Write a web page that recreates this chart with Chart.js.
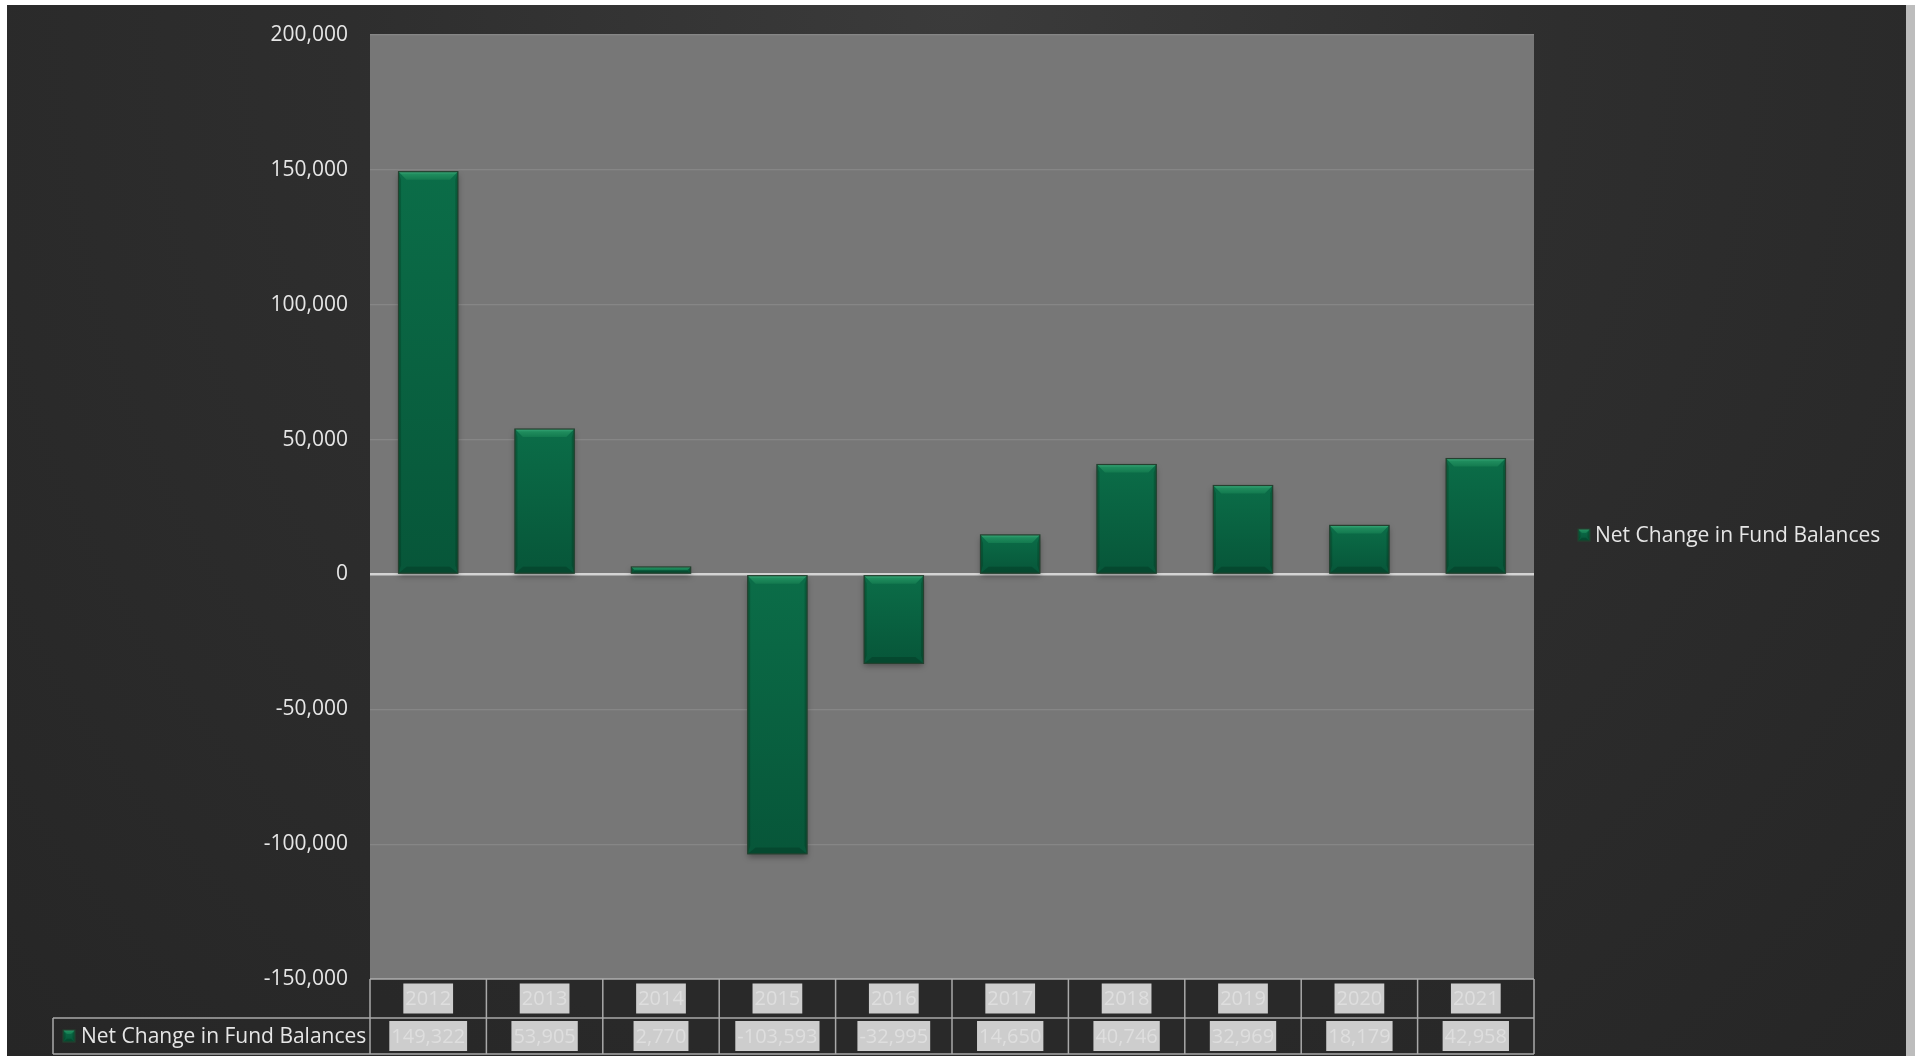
<!DOCTYPE html>
<html>
<head>
<meta charset="utf-8">
<script src="https://cdn.jsdelivr.net/npm/chart.js@4.4.1/dist/chart.umd.min.js"></script>
<style>
  html, body { margin: 0; padding: 0; background: #ffffff; overflow: hidden; }
  #wrap {
    position: absolute; left: 7px; top: 5px; width: 1899px; height: 1051px;
    background: radial-gradient(ellipse at 50% 0%, #3b3b3b 0%, #2e2e2e 45%, #262626 100%);
  }
  #edge { position: absolute; left: 1906px; top: 5px; width: 9px; height: 1051px; background: #bdbdbd; }
</style>
</head>
<body>
<div id="wrap"><canvas id="grafico" width="1899" height="1051"></canvas></div>
<div id="edge"></div>
<script>
const years = ["2012", "2013", "2014", "2015", "2016", "2017", "2018", "2019", "2020", "2021"];
const netChange = [149322, 53905, 2770, -103593, -32995, 14650, 40746, 32969, 18179, 42958];
const seriesName = "Net Change in Fund Balances";
const yTicks = { min: -150000, max: 200000, step: 50000 };

const FONT = "'Open Sans', sans-serif";
const fmt = v => v.toLocaleString("en-US");

// plot background + bevelled bars + data table + legend
const excelLook = {
    id: "excelLook",
    beforeDraw(chart) {
        const { ctx, chartArea: a } = chart;
        ctx.save();
        ctx.fillStyle = "#777777";
        ctx.fillRect(a.left, a.top, a.right - a.left, a.bottom - a.top);
        ctx.restore();
    },
    beforeDatasetsDraw(chart) {
        const ctx = chart.ctx;
        ctx.save();
        ctx.shadowColor = "rgba(0,0,0,0.35)";
        ctx.shadowBlur = 6;
        ctx.shadowOffsetY = 3;
    },
    afterDatasetsDraw(chart) {
        const ctx = chart.ctx;
        ctx.restore();
        chart.getDatasetMeta(0).data.forEach(bar => {
            const p = bar.getProps(["x", "y", "base", "width"], true);
            drawBevel(ctx, p.x - p.width / 2, p.x + p.width / 2, Math.min(p.y, p.base), Math.max(p.y, p.base));
        });
    },
    afterDraw(chart) {
        const { ctx, chartArea: a } = chart;
        const xs = chart.scales.x;
        const colW = xs.getPixelForValue(1) - xs.getPixelForValue(0);
        const row1 = a.bottom, row2 = a.bottom + 39, row3 = chart.height - 2;

        ctx.save();
        ctx.fillStyle = "rgba(40,40,40,0.55)";
        ctx.fillRect(a.left, row1, a.right - a.left, row3 - row1);
        ctx.strokeStyle = "#a9a9a9";
        ctx.lineWidth = 1.5;
        ctx.beginPath();
        ctx.moveTo(a.left, row1); ctx.lineTo(a.right, row1);
        ctx.moveTo(46, row2); ctx.lineTo(a.right, row2);
        ctx.moveTo(46, row3); ctx.lineTo(a.right, row3);
        ctx.moveTo(46, row2); ctx.lineTo(46, row3);
        for (let i = 0; i <= years.length; i++) {
            const x = a.left + i * colW;
            ctx.moveTo(x, row1); ctx.lineTo(x, row3);
        }
        ctx.stroke();

        ctx.font = "20px " + FONT;
        ctx.textAlign = "center";
        ctx.textBaseline = "middle";
        years.forEach((yr, i) => {
            const cx = xs.getPixelForValue(i);
            drawHighlighted(ctx, yr, cx, (row1 + row2) / 2);
            drawHighlighted(ctx, fmt(netChange[i]), cx, (row2 + row3) / 2);
        });

        // legend key in table
        drawKey(ctx, 56, (row2 + row3) / 2 - 6);
        ctx.font = "21px " + FONT;
        ctx.textAlign = "left";
        ctx.fillStyle = "#e6e6e6";
        ctx.fillText(seriesName, 74, (row2 + row3) / 2 + 1);

        // right legend
        drawKey(ctx, 1571, 524);
        ctx.fillText(seriesName, 1588, 531);
        ctx.restore();
    }
};

function drawHighlighted(ctx, text, cx, cy) {
    const w = ctx.measureText(text).width + 4;
    ctx.fillStyle = "#cdcdcd";
    ctx.fillRect(cx - w / 2, cy - 15, w, 30);
    ctx.fillStyle = "#dedede";
    ctx.fillText(text, cx, cy + 1);
}

function drawKey(ctx, x, y) {
    drawBevel(ctx, x, x + 12, y, y + 12, 4);
}

function drawBevel(ctx, l, r, top, bot, depth) {
    const h = bot - top;
    if (h <= 0) return;
    const d = Math.min(depth || 8, h / 2, (r - l) / 2);
    const g = ctx.createLinearGradient(0, top, 0, bot);
    g.addColorStop(0, "#0b6d48");
    g.addColorStop(1, "#075639");
    ctx.save();
    ctx.fillStyle = g;
    ctx.fillRect(l, top, r - l, h);
    // top facet
    const gt = ctx.createLinearGradient(0, top, 0, top + d);
    gt.addColorStop(0, "#3aa97a");
    gt.addColorStop(0.35, "#1f8c5d");
    gt.addColorStop(1, "#137a4f");
    ctx.fillStyle = gt;
    poly(ctx, [[l, top], [r, top], [r - d, top + d], [l + d, top + d]]);
    // thin side facets
    const s = Math.min(2.5, d);
    ctx.fillStyle = "rgba(0,30,15,0.22)";
    poly(ctx, [[l, top], [l + s, top + d], [l + s, bot - d], [l, bot]]);
    poly(ctx, [[r, top], [r - s, top + d], [r - s, bot - d], [r, bot]]);
    // bottom facet
    ctx.fillStyle = "rgba(0,35,20,0.28)";
    poly(ctx, [[l, bot], [r, bot], [r - d, bot - d * 0.8], [l + d, bot - d * 0.8]]);
    ctx.strokeStyle = "#24412f";
    ctx.lineWidth = 1.2;
    ctx.strokeRect(l, top, r - l, h);
    ctx.restore();
}

function poly(ctx, pts) {
    ctx.beginPath();
    ctx.moveTo(pts[0][0], pts[0][1]);
    for (let i = 1; i < pts.length; i++) ctx.lineTo(pts[i][0], pts[i][1]);
    ctx.closePath();
    ctx.fill();
}

const ctx = document.getElementById("grafico").getContext("2d");
const chart = new Chart(ctx, {
    type: "bar",
    data: {
        labels: years,
        datasets: [{
            label: seriesName,
            data: netChange,
            backgroundColor: "#086040",
            borderWidth: 0,
            barPercentage: 0.51,
            categoryPercentage: 1
        }]
    },
    options: {
        responsive: false,
        animation: false,
        layout: { padding: { left: 0, right: 372, top: 30, bottom: 77 } },
        plugins: { legend: { display: false }, tooltip: { enabled: false } },
        scales: {
            x: { display: false, grid: { display: false } },
            y: {
                min: yTicks.min,
                max: yTicks.max,
                afterFit(scale) {
                    scale.width = 363;
                    scale.paddingTop = 0;
                    scale.paddingBottom = 0;
                },
                border: { display: false },
                grid: {
                    drawTicks: false,
                    color: c => c.tick && c.tick.value === 0 ? "#d4d4d4" : "#868686",
                    lineWidth: c => c.tick && c.tick.value === 0 ? 2.5 : 1.2
                },
                ticks: {
                    stepSize: yTicks.step,
                    padding: 22,
                    color: "#e6e6e6",
                    font: { family: FONT, size: 21 },
                    callback: v => fmt(v)
                }
            }
        }
    },
    plugins: [excelLook]
});
</script>
</body>
</html>
